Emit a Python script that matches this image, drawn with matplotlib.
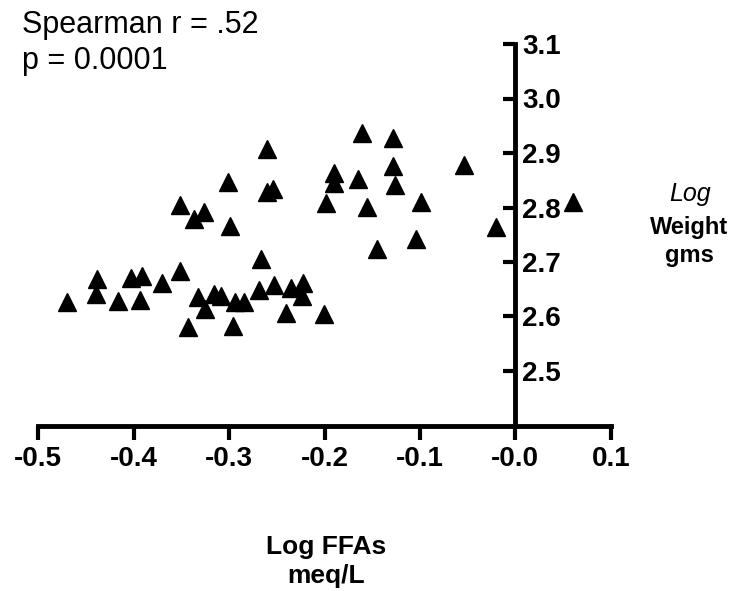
import matplotlib
matplotlib.use("Agg")
import matplotlib.pyplot as plt

plt.rcParams['font.family'] = ['Liberation Sans', 'DejaVu Sans']

# log FFAs (meq/L) vs log weight (gms)
log_ffa = [-0.470, -0.438, -0.439, -0.416, -0.403, -0.391, -0.393, -0.370,
           -0.351, -0.351, -0.337, -0.326, -0.343, -0.333, -0.325, -0.316,
           -0.309, -0.301, -0.299, -0.294, -0.296, -0.284, -0.269, -0.267,
           -0.260, -0.260, -0.254, -0.253, -0.240, -0.235, -0.224, -0.223,
           -0.201, -0.198, -0.190, -0.190, -0.165, -0.161, -0.155, -0.145,
           -0.128, -0.128, -0.126, -0.104, -0.099, -0.054, -0.020, 0.060]
log_weight = [2.626, 2.668, 2.641, 2.629, 2.670, 2.675, 2.630, 2.661,
              2.684, 2.804, 2.779, 2.792, 2.581, 2.636, 2.613, 2.641,
              2.638, 2.846, 2.766, 2.627, 2.583, 2.627, 2.648, 2.706,
              2.907, 2.828, 2.834, 2.658, 2.607, 2.652, 2.638, 2.662,
              2.604, 2.809, 2.845, 2.863, 2.852, 2.936, 2.801, 2.723,
              2.927, 2.876, 2.842, 2.743, 2.810, 2.878, 2.765, 2.810]

xticks = [-0.5, -0.4, -0.3, -0.2, -0.1, 0.0, 0.1]
xtick_labels = ['-0.5', '-0.4', '-0.3', '-0.2', '-0.1', '-0.0', '0.1']
yticks = [2.5, 2.6, 2.7, 2.8, 2.9, 3.0, 3.1]
ytick_labels = ['2.5', '2.6', '2.7', '2.8', '2.9', '3.0', '3.1']

W, H = 733, 591
fig = plt.figure(figsize=(W / 100, H / 100), dpi=100)
ax = fig.add_axes([38.3 / W, 1 - 425.5 / H, (610.7 - 38.3) / W, (425.5 - 44) / H])

ax.plot(log_ffa, log_weight, linestyle='none', marker='^', ms=13,
        color='black', mec='black', mew=1, clip_on=False)

ax.set_xlim(-0.5, 0.1)
ax.set_ylim(2.4, 3.1)

# y axis sits at x = 0, ticks pointing left, labels on the right
ax.spines['top'].set_visible(False)
ax.spines['left'].set_visible(False)
ax.spines['right'].set_position(('data', 0))
for s in ('right', 'bottom'):
    ax.spines[s].set_linewidth(3.5)
ax.yaxis.set_ticks_position('right')

ax.set_xticks(xticks)
ax.set_xticklabels(xtick_labels, fontweight='bold', fontsize=20)
ax.set_yticks(yticks)
ax.set_yticklabels(ytick_labels, fontweight='bold', fontsize=20)
ax.tick_params(axis='x', direction='out', length=10, width=3, pad=5)
ax.tick_params(axis='y', direction='in', length=9, width=3, pad=5)

def put(x, y, s, **kw):
    fig.text(x / W, 1 - y / H, s, va='baseline', **kw)

put(22, 33, 'Spearman r = .52', fontsize=22)
put(22, 69, 'p = 0.0001', fontsize=22)
put(690, 201, 'Log', fontsize=18, style='italic', ha='center')
put(689, 234, 'Weight', fontsize=17, fontweight='bold', ha='center')
put(689, 262, 'gms', fontsize=17, fontweight='bold', ha='center')
put(326, 554, 'Log FFAs', fontsize=19, fontweight='bold', ha='center')
put(326, 583, 'meq/L', fontsize=19, fontweight='bold', ha='center')

fig.savefig('out.png', dpi=100)
